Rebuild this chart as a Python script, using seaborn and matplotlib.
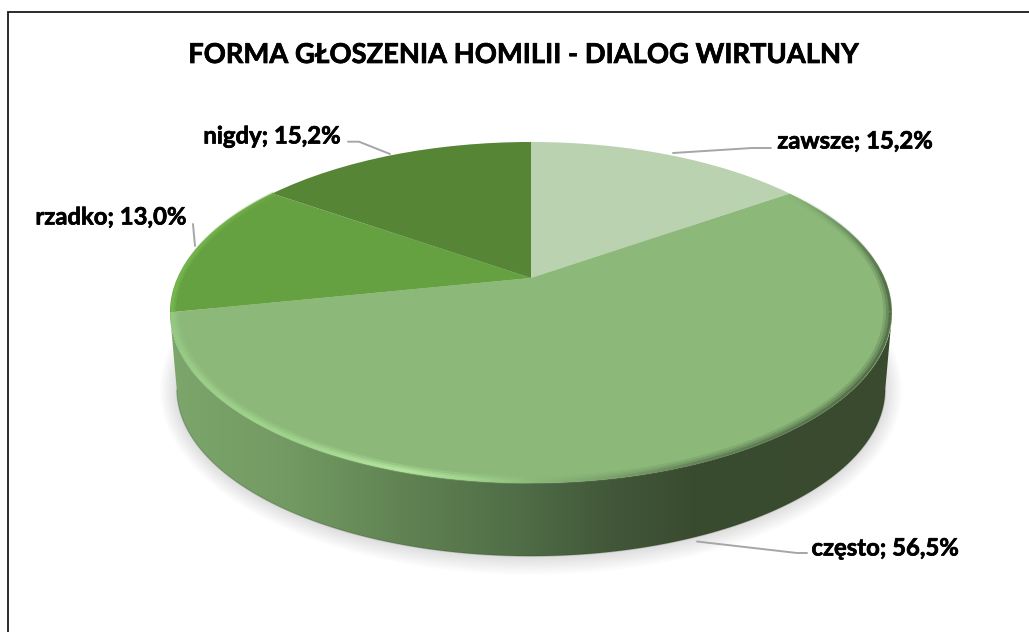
import numpy as np
import matplotlib
matplotlib.use("Agg")
import matplotlib.pyplot as plt
import matplotlib.patheffects as pe
from matplotlib.collections import LineCollection
from matplotlib.colors import LinearSegmentedColormap, to_rgb
from matplotlib.patches import Polygon
from matplotlib.transforms import Transform
import seaborn as sns

# dane
categories = ["zawsze", "często", "rzadko", "nigdy"]
values = [15.2, 56.5, 13.0, 15.2]
colors = ["#bad2b0", "#8cb97a", "#65a140", "#558535"]
title = "FORMA GŁOSZENIA HOMILII - DIALOG WIRTUALNY"

sns.set_theme(style="white")
plt.rcParams["font.family"] = ["Lato", "DejaVu Sans"]


# rzut perspektywiczny: koło jednostkowe -> górna powierzchnia na obrazku
def project(xy):
    xy = np.asarray(xy, dtype=float)
    w = 1 + 0.2023 * xy[:, 1]
    return np.column_stack([531 + 353.6 * xy[:, 0] / w, (278 - 107.3 * xy[:, 1]) / w])


class Perspective(Transform):
    input_dims = 2
    output_dims = 2
    is_separable = False
    has_inverse = False

    def transform_non_affine(self, values):
        return project(values)


fig = plt.figure(figsize=(10.29, 6.32), dpi=100, facecolor="white")
ax = fig.add_axes([0, 0, 1, 1])

wedges, _ = ax.pie(values, colors=colors, startangle=90, counterclock=False,
                   wedgeprops={"linewidth": 0})
ax.set_aspect("auto")
ax.set_xlim(0, 1029)
ax.set_ylim(632, 0)
ax.axis("off")
persp = Perspective()
for w in wedges:
    w.set_transform(persp + ax.transData)
    w.set_zorder(5)

# obwód górnej i dolnej krawędzi
t = np.linspace(0, 2 * np.pi, 721)
rim = project(np.column_stack([np.cos(t), np.sin(t)]))
center = np.array([531, 312.5])
depth = 76.5
base = center + (rim - center) * [0.981, 0.98] + [0, depth]

# cień pod spodem
for k in np.linspace(19, 1, 16):
    shadow = center + (rim - center) * [0.981 + k / 400, 0.98 + k / 180] + [0, depth + 1]
    ax.add_patch(Polygon(shadow, closed=True, fc="#000000", ec="none", alpha=0.009, zorder=1))

# ściana boczna z gradientem
wall_cmap = LinearSegmentedColormap.from_list("wall", [
    (0.00, "#7ca66b"), (0.17, "#729962"), (0.32, "#618353"), (0.48, "#506e47"),
    (0.60, "#43593a"), (0.72, "#3a4c30"), (1.00, "#394a2e")])
lower = rim[:, 1] >= center[1]
wall_pts = np.vstack([rim[lower], base[lower][::-1]])
wall = Polygon(wall_pts, closed=True, fc="none", ec="none", zorder=2)
ax.add_patch(wall)
img = ax.imshow(np.linspace(0, 1, 256)[None, :], cmap=wall_cmap, aspect="auto",
                extent=[170, 892, 560, 300], zorder=3)
img.set_clip_path(wall)
ax.set_xlim(0, 1029)
ax.set_ylim(632, 0)

# ciemniejsza linia dołu ściany
ax.plot(base[lower][:, 0], base[lower][:, 1], color="#2f4027", lw=1.0, alpha=0.25, zorder=4)


# faza na krawędzi - kolor zależny od położenia
def bevel(theta, stops, width, alpha, inset, taper=0.0):
    pts = project(np.column_stack([inset * np.cos(theta), inset * np.sin(theta)]))
    segs = np.stack([pts[:-1], pts[1:]], axis=1)
    xs = (pts[:-1, 0] + pts[1:, 0]) / 2
    rgb = np.array([to_rgb(c) for _, c in stops])
    px = [p for p, _ in stops]
    a = np.full(len(xs), alpha)
    if taper > 0:
        a = a * np.clip(np.linspace(0, 1, len(xs)) / taper, 0, 1)
    cols = np.column_stack([np.interp(xs, px, rgb[:, i]) for i in range(3)] + [a])
    ax.add_collection(LineCollection(segs, colors=cols, linewidths=width, zorder=6,
                                     capstyle="butt"), autolim=False)


# kąty części "często" na dolnym łuku
boundary = 90 - np.cumsum(values) / np.sum(values) * 360

# jasna faza z lewej, przechodzi w tło powierzchni
front = np.radians(np.linspace(boundary[1], -90, 300))
front_stops = [(171, "#98cc85"), (200, "#9fd48b"), (300, "#a4d990"), (400, "#b8eba2"),
               (470, "#a5d891"), (531, "#8cb97a")]
for width, a, ins in [(6.0, 0.30, 0.988), (3.8, 0.50, 0.991), (2.0, 0.7, 0.994)]:
    bevel(front, front_stops, width, a, ins)

# ciemny brzeg po prawej, rozmyty do środka
dark = np.radians(np.linspace(35, -90, 300))
dark_stops = [(531, "#8cb97a"), (600, "#7a9f6a"), (700, "#5a7550"), (892, "#44593a")]
for width, a, ins in [(6.0, 0.20, 0.988), (3.8, 0.32, 0.991), (2.0, 0.6, 0.995)]:
    bevel(dark, dark_stops, width, a, ins, taper=0.3)

# jaśniejszy brzeg z tyłu po lewej
back = np.radians(np.linspace(boundary[1], boundary[2], 120))
for width, a, ins in [(4.0, 0.35, 0.992), (2.0, 0.55, 0.994)]:
    bevel(back, [(171, "#7fc157"), (275, "#6dab47")], width, a, ins)

# pogrubienie tekstu
heavy = [pe.withStroke(linewidth=0.5, foreground="black")]

# tytuł
ax.text(524, 55, title, ha="center", va="center", fontsize=19.7, fontweight="bold",
        color="black", zorder=10, path_effects=heavy)

# etykiety i linie odniesienia
label_pos = [(855, 141), (885, 548), (111, 217), (272, 136)]
leaders = [
    [(673, 153), (752, 148), (771, 148)],
    [(697, 541.5), (797, 553), (807, 553)],
    [(193, 224), (195, 246)],
    [(348, 141.7), (359, 141.7), (390, 154)],
]
for cat, val, pos, line in zip(categories, values, label_pos, leaders):
    text = f"{cat}; {val:.1f}%".replace(".", ",")
    ax.text(pos[0], pos[1], text, ha="center", va="center", fontsize=17.2, fontweight="bold",
            color="black", zorder=10, path_effects=heavy)
    xs, ys = zip(*line)
    ax.plot(xs, ys, color="#a6a6a6", lw=1.4, zorder=9)

# ramka: tylko góra i lewa
ax.plot([7.5, 7.5, 1029], [632, 11.5, 11.5], color="#1a1a1a", lw=1.3, zorder=11,
        solid_joinstyle="miter")

fig.savefig("out.png", dpi=100, facecolor="white")
